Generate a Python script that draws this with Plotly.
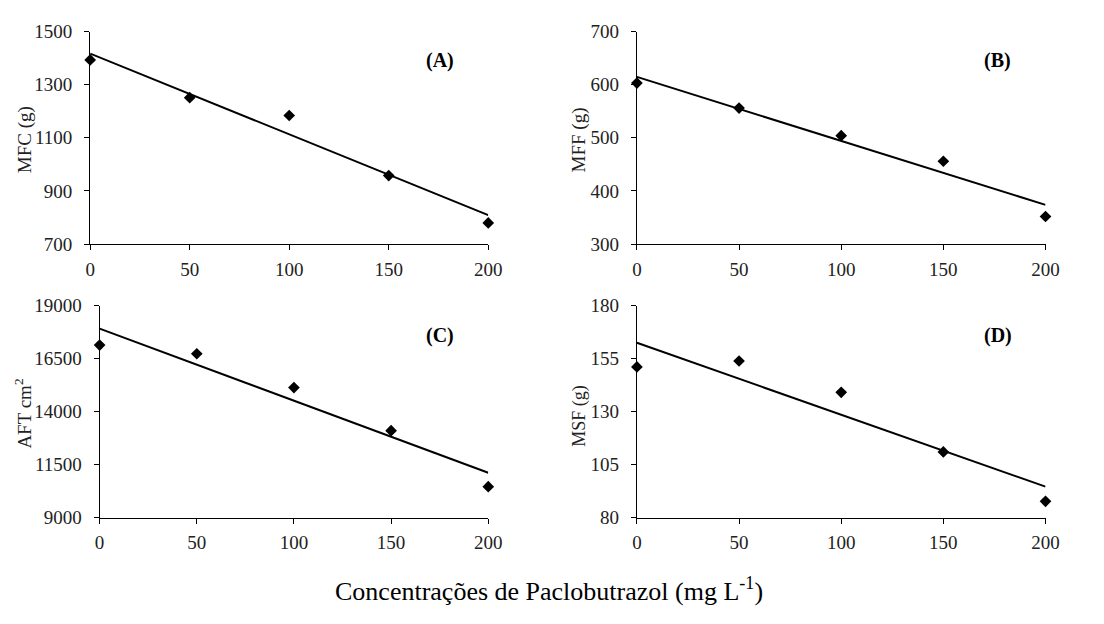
import numpy as np
import plotly.graph_objects as go

# Paclobutrazol doses (mg L-1)
doses = [0, 50, 100, 150, 200]

# Measured means for each variable
mfc = [1393, 1251, 1184, 958, 780]        # (A) MFC (g)
mff = [603, 556, 504, 456, 352]           # (B) MFF (g)
aft = [17144, 16734, 15138, 13104, 10459] # (C) AFT cm2
msf = [151.1, 153.9, 139.1, 111.0, 87.7]  # (D) MSF (g)

panel_labels = ["(A)", "(B)", "(C)", "(D)"]
y_titles = ["MFC (g)", "MFF (g)", "AFT cm<sup>2</sup>", "MSF (g)"]
y_ticks = [
    [700, 900, 1100, 1300, 1500],
    [300, 400, 500, 600, 700],
    [9000, 11500, 14000, 16500, 19000],
    [80, 105, 130, 155, 180],
]
x_ticks = [0, 50, 100, 150, 200]
x_title = "Concentrações de Paclobutrazol (mg L<sup>-1</sup>)"

series = [mfc, mff, aft, msf]

FONT = "Liberation Serif"
W, H = 1104, 624

# panel placement in paper coordinates
domains = [
    ([0.0785, 0.4454], [0.6117, 0.9643]),
    ([0.5824, 0.9590], [0.6117, 0.9643]),
    ([0.0872, 0.4454], [0.1582, 0.5096]),
    ([0.5824, 0.9590], [0.1582, 0.5096]),
]
# y-title centres and panel-letter centres, in pixels
ytitle_pos = [(21, 134), (585, 134), (18, 418), (585, 420)]
ytitle_size = [19, 19, 19, 18]
letter_pos = [(443, 52), (1010, 52), (443, 337), (1010, 337)]

fig = go.Figure()
annotations = []
layout_axes = {}

xfit = np.array([min(doses), max(doses)], dtype=float)

for i, (vals, (xd, yd)) in enumerate(zip(series, domains)):
    n = "" if i == 0 else str(i + 1)
    xa, ya = "x" + n, "y" + n

    # least-squares trend line over the dose range
    slope, intercept = np.polyfit(doses, vals, 1)
    fig.add_trace(go.Scatter(
        x=xfit, y=slope * xfit + intercept, mode="lines",
        line=dict(color="black", width=2), xaxis=xa, yaxis=ya,
        showlegend=False, hoverinfo="skip",
    ))
    fig.add_trace(go.Scatter(
        x=doses, y=vals, mode="markers",
        marker=dict(symbol="diamond", size=9, color="black"),
        xaxis=xa, yaxis=ya, showlegend=False, cliponaxis=False,
    ))

    yt = y_ticks[i]
    layout_axes["xaxis" + n] = dict(
        domain=xd, anchor=ya, range=[0, 200], tickvals=x_ticks,
        showline=True, linecolor="black", linewidth=1,
        ticks="outside", ticklen=5, tickcolor="black",
        showgrid=False, zeroline=False, ticklabelstandoff=3,
        tickfont=dict(family=FONT, size=19, color="#222"),
    )
    layout_axes["yaxis" + n] = dict(
        domain=yd, anchor=xa, range=[yt[0], yt[-1]], tickvals=yt,
        tickformat="d",
        showline=True, linecolor="black", linewidth=1,
        ticks="outside", ticklen=5, tickcolor="black",
        showgrid=False, zeroline=False, ticklabelstandoff=8,
        tickfont=dict(family=FONT, size=19, color="#222"),
    )

    # panel letter
    lx, ly = letter_pos[i]
    annotations.append(dict(
        text="<b>" + panel_labels[i] + "</b>",
        xref="paper", yref="paper", x=lx / W, y=1 - ly / H,
        xanchor="center", yanchor="middle", showarrow=False,
        font=dict(family=FONT, size=20, color="black"),
    ))
    # rotated y-axis title
    tx, ty = ytitle_pos[i]
    annotations.append(dict(
        text=y_titles[i], xref="paper", yref="paper",
        x=tx / W, y=1 - ty / H, xanchor="center", yanchor="middle",
        textangle=-90, showarrow=False,
        font=dict(family=FONT, size=ytitle_size[i], color="#222"),
    ))

# shared x-axis title
annotations.append(dict(
    text=x_title, xref="paper", yref="paper",
    x=554 / W, y=1 - 600 / H, xanchor="center", yanchor="middle",
    showarrow=False,
    font=dict(family=FONT, size=26, color="black"),
))

fig.update_layout(
    width=W, height=H,
    margin=dict(l=0, r=0, t=0, b=0),
    paper_bgcolor="white", plot_bgcolor="white",
    annotations=annotations,
    **layout_axes,
)

fig.write_html("out.html")
